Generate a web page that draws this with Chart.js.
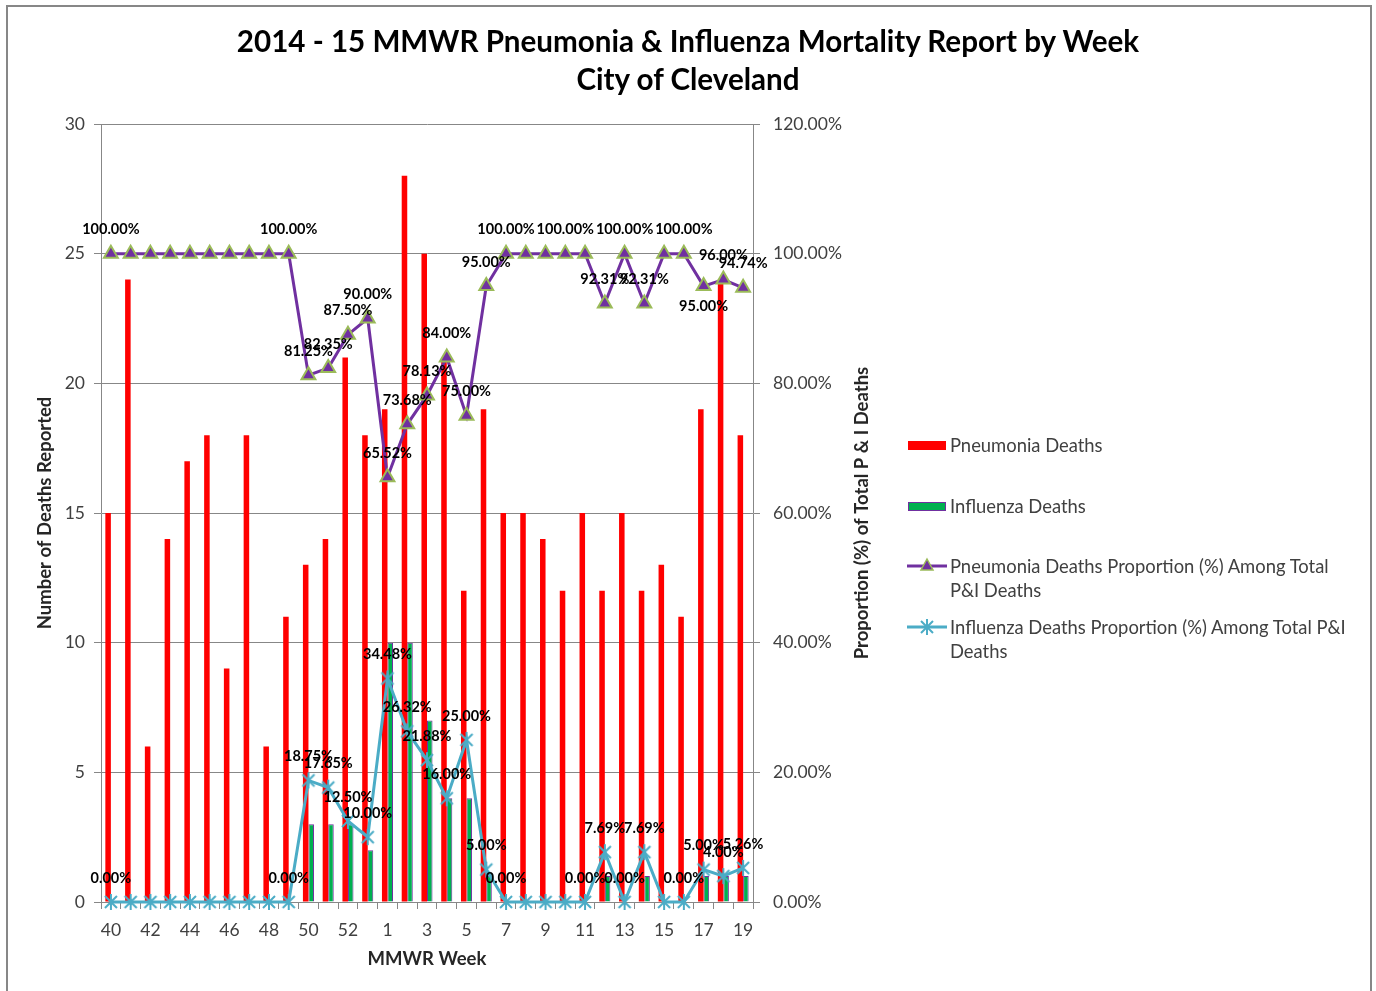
<!DOCTYPE html>
<html>
<head>
<meta charset="utf-8">
<title>2014 - 15 MMWR Pneumonia &amp; Influenza Mortality Report by Week</title>
<script src="https://cdn.jsdelivr.net/npm/chart.js"></script>
<style>
  body { margin: 0; background: #fff; overflow: hidden; font-family: Lato, "Open Sans", sans-serif; }
  #frame { position: absolute; left: 6px; top: 5px; width: 1362px; height: 1100px; border: 2px solid #878787; }
  #title { position: absolute; left: 0; top: 22px; width: 1376px; text-align: center; font-weight: bold; font-size: 29.6px; line-height: 38px; color: #000; }
  #chart { position: absolute; left: 0; top: 0; }
  #legend { position: absolute; left: 907px; top: 0; width: 460px; font-size: 18.4px; color: #404040; }
  .item { position: absolute; left: 0; width: 460px; line-height: 24px; }
  .item canvas { position: absolute; left: 0; top: 0; }
  .item span { display: block; margin-left: 43px; width: 408px; }
</style>
</head>
<body>
<div id="frame"></div>
<canvas id="chart" width="1376" height="991"></canvas>
<div id="title">2014 - 15 MMWR Pneumonia &amp; Influenza Mortality Report by Week<br>City of Cleveland</div>
<div id="legend"></div>
<script>
// MMWR weeks, season 2014-15
const weeks = ['40', '41', '42', '43', '44', '45', '46', '47', '48', '49', '50', '51', '52', '53',
    '1', '2', '3', '4', '5', '6', '7', '8', '9', '10', '11', '12', '13', '14', '15', '16', '17', '18', '19'];

const pneumoniaDeaths = [15, 24, 6, 14, 17, 18, 9, 18, 6, 11, 13, 14, 21, 18,
    19, 28, 25, 21, 12, 19, 15, 15, 14, 12, 15, 12, 15, 12, 13, 11, 19, 24, 18];
const influenzaDeaths = [0, 0, 0, 0, 0, 0, 0, 0, 0, 0, 3, 3, 3, 2,
    10, 10, 7, 4, 4, 1, 0, 0, 0, 0, 0, 1, 0, 1, 0, 0, 1, 1, 1];

const pneumoniaPct = [100, 100, 100, 100, 100, 100, 100, 100, 100, 100, 81.25, 82.35, 87.50, 90.00,
    65.52, 73.68, 78.13, 84.00, 75.00, 95.00, 100, 100, 100, 100, 100, 92.31, 100, 92.31, 100, 100, 95.00, 96.00, 94.74];
const influenzaPct = [0, 0, 0, 0, 0, 0, 0, 0, 0, 0, 18.75, 17.65, 12.50, 10.00,
    34.48, 26.32, 21.88, 16.00, 25.00, 5.00, 0, 0, 0, 0, 0, 7.69, 0, 7.69, 0, 0, 5.00, 4.00, 5.26];

// weeks whose points carry a value label
const pneumoniaLabelWeeks = ['40', '49', '50', '51', '52', '53', '1', '2', '3', '4', '5', '6', '7', '10', '12', '13', '14', '16', '17', '18', '19'];
const influenzaLabelWeeks = ['40', '49', '50', '51', '52', '53', '1', '2', '3', '4', '5', '6', '7', '11', '12', '13', '14', '16', '17', '18', '19'];
const pneumoniaLabelsBelow = ['17'];

const FONT = 'Lato';
const GRID = '#878787';
const RIGHT_TITLE = 'Proportion (%) of Total P & I Deaths';

// excel style asterisk marker
function asteriskMarker(color) {
    const c = document.createElement('canvas');
    c.width = 18; c.height = 18;
    const g = c.getContext('2d');
    g.strokeStyle = color;
    g.lineWidth = 2;
    g.beginPath();
    g.moveTo(3, 3); g.lineTo(15, 15);
    g.moveTo(15, 3); g.lineTo(3, 15);
    g.moveTo(9, 1); g.lineTo(9, 17);
    g.stroke();
    return c;
}
const fluMarker = asteriskMarker('#4BACC6');

const pointLabels = {
    id: 'pointLabels',
    afterDatasetsDraw(chart) {
        const ctx = chart.ctx;
        ctx.save();
        ctx.font = 'bold 14.5px ' + FONT;
        ctx.fillStyle = '#000';
        ctx.textAlign = 'center';
        ctx.textBaseline = 'middle';
        chart.data.datasets.forEach((ds, di) => {
            if (!ds.labelWeeks) return;
            const meta = chart.getDatasetMeta(di);
            meta.data.forEach((pt, i) => {
                if (!ds.labelWeeks.includes(weeks[i])) return;
                const below = ds.belowWeeks && ds.belowWeeks.includes(weeks[i]);
                ctx.fillText(ds.data[i].toFixed(2) + '%', pt.x, pt.y + (below ? 20 : -24));
            });
        });
        ctx.restore();
    }
};

// right axis title reads bottom to top, like the left one
const rightTitle = {
    id: 'rightTitle',
    afterDraw(chart) {
        const ctx = chart.ctx;
        const s = chart.scales.y1;
        ctx.save();
        ctx.font = 'bold 18.5px ' + FONT;
        ctx.fillStyle = '#262626';
        ctx.textAlign = 'center';
        ctx.textBaseline = 'middle';
        ctx.translate(s.right - 16, (s.top + s.bottom) / 2);
        ctx.rotate(-Math.PI / 2);
        ctx.fillText(RIGHT_TITLE, 0, 0);
        ctx.restore();
    }
};

const chart = new Chart(document.getElementById('chart'), {
    data: {
        labels: weeks,
        datasets: [
            {
                type: 'bar',
                label: 'Pneumonia Deaths',
                data: pneumoniaDeaths,
                backgroundColor: '#FF0000',
                borderWidth: 0,
                categoryPercentage: 0.56,
                barPercentage: 1,
                yAxisID: 'y',
                order: 2
            },
            {
                type: 'bar',
                label: 'Influenza Deaths',
                data: influenzaDeaths,
                backgroundColor: '#00B050',
                borderColor: '#7030A0',
                borderWidth: c => c.raw > 0 ? 1 : 0,
                categoryPercentage: 0.56,
                barPercentage: 1,
                yAxisID: 'y',
                order: 3
            },
            {
                type: 'line',
                label: 'Pneumonia Deaths Proportion (%) Among Total P&I Deaths',
                data: pneumoniaPct,
                borderColor: '#7030A0',
                borderWidth: 3,
                pointStyle: 'triangle',
                pointRadius: 8,
                pointBackgroundColor: '#7030A0',
                pointBorderColor: '#9BBB59',
                pointBorderWidth: 2,
                tension: 0,
                clip: false,
                yAxisID: 'y1',
                order: 1,
                labelWeeks: pneumoniaLabelWeeks,
                belowWeeks: pneumoniaLabelsBelow
            },
            {
                type: 'line',
                label: 'Influenza Deaths Proportion (%) Among Total P&I Deaths',
                data: influenzaPct,
                borderColor: '#4BACC6',
                borderWidth: 3,
                pointStyle: fluMarker,
                tension: 0,
                clip: false,
                yAxisID: 'y1',
                order: 0,
                labelWeeks: influenzaLabelWeeks
            }
        ]
    },
    options: {
        responsive: false,
        animation: false,
        events: [],
        layout: { padding: { top: 124, right: 498, bottom: 0, left: 0 } },
        plugins: { legend: { display: false }, tooltip: { enabled: false } },
        scales: {
            x: {
                offset: true,
                grid: { offset: true, drawOnChartArea: false, tickLength: 7, color: GRID },
                border: { color: GRID },
                ticks: {
                    autoSkip: false, maxRotation: 0, padding: 11, color: '#404040',
                    font: { size: 17.5, family: FONT },
                    callback: (v, i) => i % 2 === 0 ? weeks[i] : ''
                },
                title: {
                    display: true, text: 'MMWR Week', color: '#262626',
                    font: { size: 18.5, weight: 'bold', family: FONT },
                    padding: { top: 0, bottom: 21 }
                },
                afterFit: s => { s.height = 89; }
            },
            y: {
                position: 'left',
                min: 0, max: 30,
                grid: { color: GRID, tickLength: 7 },
                border: { color: GRID },
                ticks: { stepSize: 5, padding: 9, color: '#404040', font: { size: 17.5, family: FONT } },
                title: {
                    display: true, text: 'Number of Deaths Reported', color: '#262626',
                    font: { size: 18.5, weight: 'bold', family: FONT },
                    padding: { top: 34, bottom: 0 }
                },
                afterFit: s => { s.width = 101; }
            },
            y1: {
                position: 'right',
                min: 0, max: 120,
                grid: { drawOnChartArea: false, color: GRID, tickLength: 7 },
                border: { color: GRID },
                ticks: {
                    stepSize: 20, padding: 13, color: '#404040', font: { size: 17.5, family: FONT },
                    callback: v => v.toFixed(2) + '%'
                },
                afterFit: s => { s.width = 125; }
            }
        }
    },
    plugins: [pointLabels, rightTitle]
});

// legend on the right, built from the datasets
const legend = document.getElementById('legend');
chart.data.datasets.forEach((ds, i) => {
    const item = document.createElement('div');
    item.className = 'item';
    item.style.top = (433 + i * 60.5) + 'px';
    const sw = document.createElement('canvas');
    sw.width = 40; sw.height = 24;
    const g = sw.getContext('2d');
    if (ds.type === 'bar') {
        g.fillStyle = ds.backgroundColor;
        g.fillRect(1, 8, 38, 9);
        if (ds.borderColor) {
            g.strokeStyle = ds.borderColor;
            g.lineWidth = 1;
            g.strokeRect(1.5, 8.5, 37, 8);
        }
    } else {
        g.strokeStyle = ds.borderColor;
        g.lineWidth = 3;
        g.beginPath(); g.moveTo(0, 12); g.lineTo(40, 12); g.stroke();
        if (ds.pointStyle === 'triangle') {
            g.beginPath();
            g.moveTo(20, 5); g.lineTo(26, 16); g.lineTo(14, 16); g.closePath();
            g.fillStyle = ds.pointBackgroundColor; g.fill();
            g.strokeStyle = ds.pointBorderColor; g.lineWidth = 1.5; g.stroke();
        } else {
            g.drawImage(ds.pointStyle, 11, 3);
        }
    }
    item.appendChild(sw);
    const txt = document.createElement('span');
    txt.textContent = ds.label;
    item.appendChild(txt);
    legend.appendChild(item);
});
</script>
</body>
</html>
